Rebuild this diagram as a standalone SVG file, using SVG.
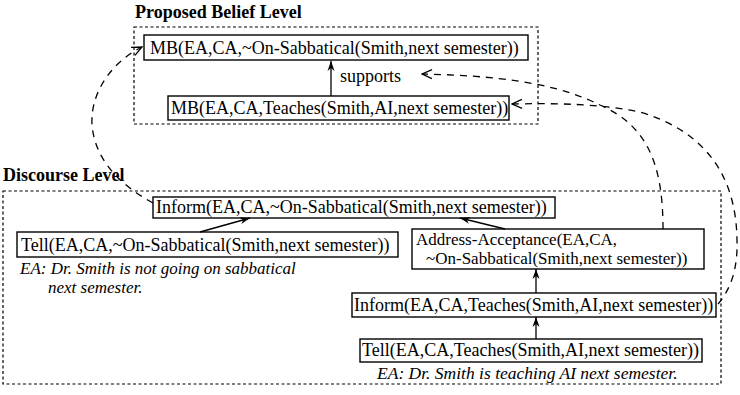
<svg xmlns="http://www.w3.org/2000/svg" width="740" height="395" viewBox="0 0 740 395">
<style>
.t{font-family:"Liberation Serif","Times New Roman",serif;font-size:18px;fill:#000}
.t2{font-family:"Liberation Serif","Times New Roman",serif;font-size:17px;fill:#000}
.it{font-family:"Liberation Serif","Times New Roman",serif;font-size:17.5px;font-style:italic;fill:#000}
.it2{font-family:"Liberation Serif","Times New Roman",serif;font-size:17px;font-style:italic;fill:#000}
.h{font-family:"Liberation Serif","Times New Roman",serif;font-size:18px;font-weight:bold;fill:#000}
.box{fill:#fff;stroke:#000;stroke-width:1.4}
.lvl{fill:none;stroke:#000;stroke-width:1.2;stroke-dasharray:3 2.5}
.sol{fill:none;stroke:#000;stroke-width:1.3;marker-end:url(#solid)}
.dsh{fill:none;stroke:#000;stroke-width:1.3;stroke-dasharray:7 6;marker-end:url(#open)}
</style>
<defs>
<marker id="solid" viewBox="-11 -5 12 10" refX="0" refY="0" markerWidth="12" markerHeight="10" orient="auto" markerUnits="userSpaceOnUse">
<path d="M-10,-3.5 L0,0 L-10,3.5 L-7,0 Z" fill="#000"/>
</marker>
<marker id="open" viewBox="-11 -6 12 12" refX="0" refY="0" markerWidth="12" markerHeight="12" orient="auto" markerUnits="userSpaceOnUse">
<path d="M-10,-4.5 L0,0 L-10,4.5" fill="none" stroke="#000" stroke-width="1.3"/>
</marker>
</defs>
<rect width="740" height="395" fill="#fff"/>

<g id="proposed-belief-level">
<text class="h" x="135" y="18">Proposed Belief Level</text>
<rect class="lvl" x="134" y="27" width="404" height="97"/>
</g>
<g id="discourse-level">
<text class="h" x="3" y="181">Discourse Level</text>
<rect class="lvl" x="3" y="191" width="718" height="193"/>
</g>

<g id="mb1">
<rect class="box" x="144" y="35" width="384" height="25"/>
<text class="t" x="150" y="54">MB(EA,CA,~On-Sabbatical(Smith,next semester))</text>
</g>
<g id="mb2">
<rect class="box" x="168" y="96" width="341" height="24"/>
<text class="t" x="171" y="114">MB(EA,CA,Teaches(Smith,AI,next semester))</text>
</g>
<g id="inform1">
<rect class="box" x="153" y="197" width="402" height="21"/>
<text class="t" x="156" y="213">Inform(EA,CA,~On-Sabbatical(Smith,next semester))</text>
</g>
<g id="tell1">
<rect class="box" x="17" y="232" width="381" height="25"/>
<text class="t" x="21" y="251">Tell(EA,CA,~On-Sabbatical(Smith,next semester))</text>
</g>
<g id="note1">
<text class="it2" x="20" y="274">EA: Dr. Smith is not going on sabbatical</text>
<text class="it2" x="48" y="293">next semester.</text>
</g>
<g id="address">
<rect class="box" x="412" y="229" width="292" height="40"/>
<text class="t2" x="416" y="245">Address-Acceptance(EA,CA,</text>
<text class="t2" x="426" y="264">~On-Sabbatical(Smith,next semester))</text>
</g>
<g id="inform2">
<rect class="box" x="352" y="293" width="364" height="24"/>
<text class="t" x="354" y="311">Inform(EA,CA,Teaches(Smith,AI,next semester))</text>
</g>
<g id="tell2">
<rect class="box" x="360" y="339" width="342" height="23"/>
<text class="t" x="362" y="356">Tell(EA,CA,Teaches(Smith,AI,next semester))</text>
</g>
<g id="note2">
<text class="it" x="377" y="379">EA: Dr. Smith is teaching AI next semester.</text>
</g>

<g id="connectors">
<path class="sol" d="M331,96 L331,61"/>
<text class="t" x="340" y="82">supports</text>
<path class="sol" d="M200,232 L250,218"/>
<path class="sol" d="M505,229 L460,218"/>
<path class="sol" d="M536,293 L536,269"/>
<path class="sol" d="M536,339 L536,317"/>
<path class="dsh" d="M663,229 C663,160 645,125 600,105 C565,88 520,76 422,74"/>
<path class="dsh" d="M718,304 C730,290 738,270 737,240 C736,170 700,130 640,112 C600,104 560,103 512,104"/>
<path class="dsh" d="M153,203 C120,185 95,160 92,125 C90,90 115,60 142,47"/>
</g>
</svg>
